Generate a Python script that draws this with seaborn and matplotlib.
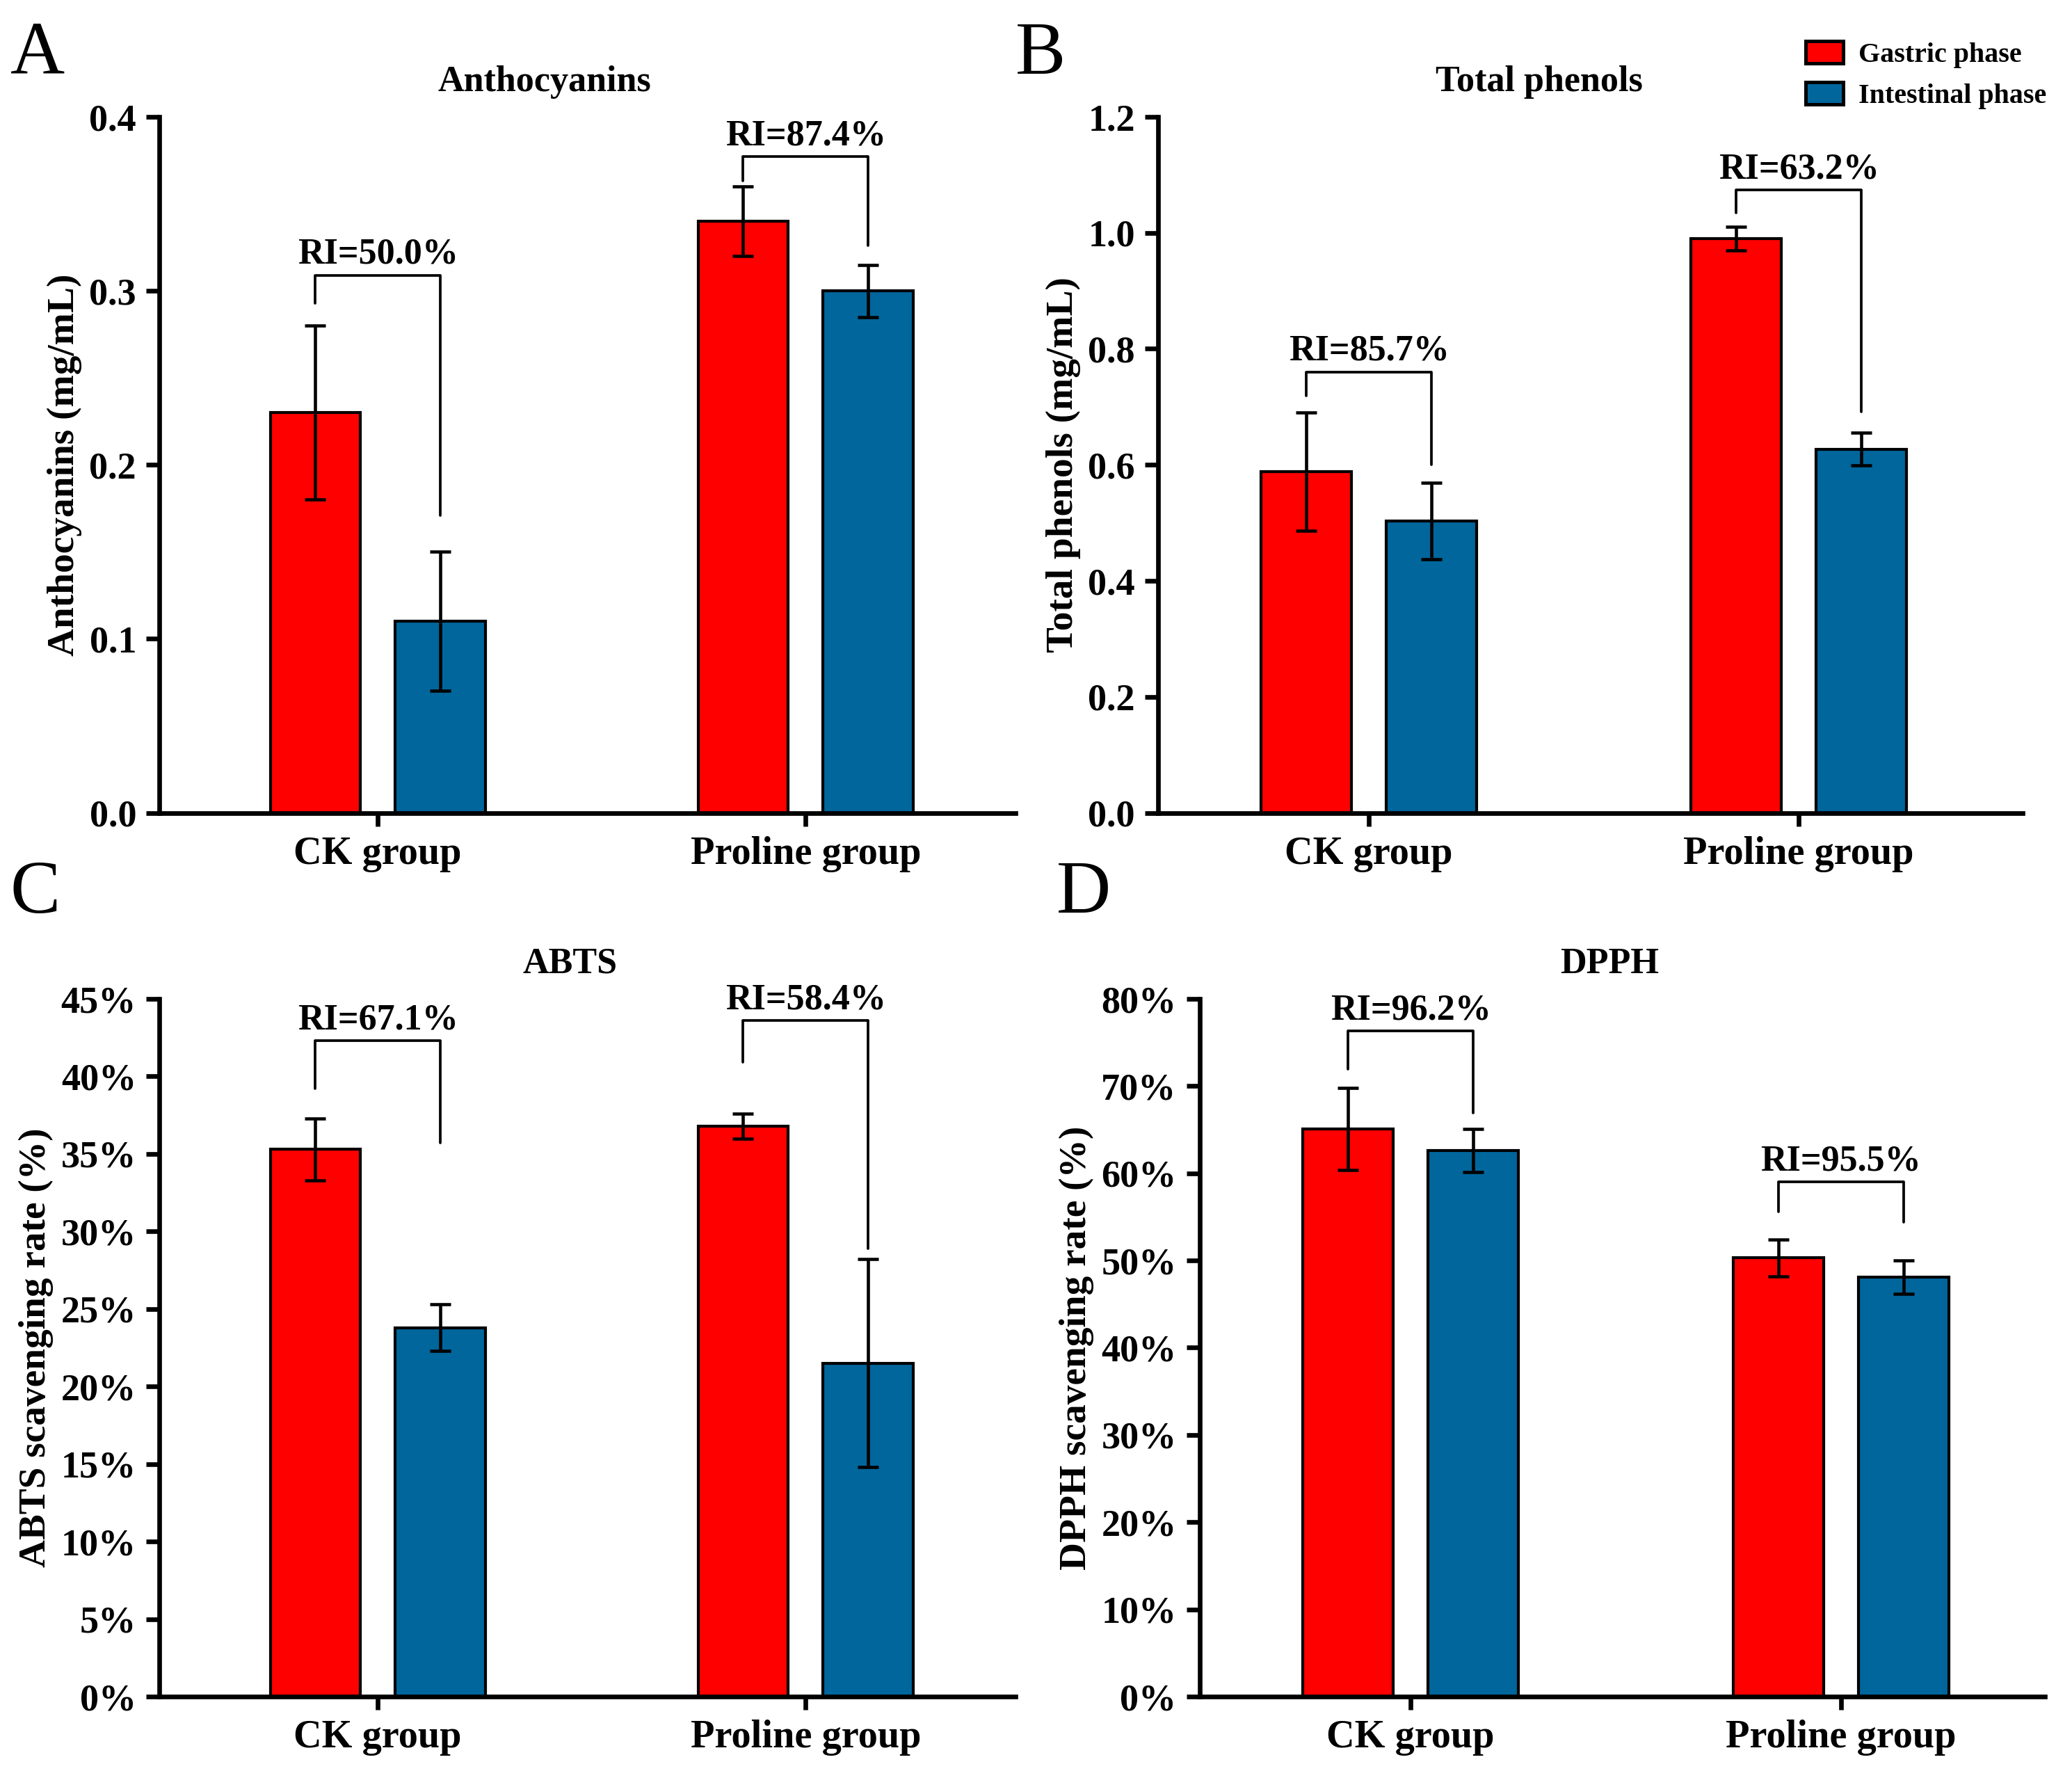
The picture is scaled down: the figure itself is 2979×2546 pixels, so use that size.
import numpy as np
import pandas as pd
import seaborn as sns
import matplotlib.pyplot as plt
from matplotlib.patches import Patch
from matplotlib.container import BarContainer
from matplotlib.ticker import FormatStrFormatter, PercentFormatter

# ---------------------------------------------------------
# data
# ---------------------------------------------------------
groups = ['CK group', 'Proline group']
phases = ['Gastric phase', 'Intestinal phase']
colors = {'Gastric phase': '#FF0000', 'Intestinal phase': '#00669C'}

antho_mean = [[0.23, 0.34], [0.11, 0.30]]
antho_err = [[0.05, 0.02], [0.04, 0.015]]
antho_ri = ['RI=50.0%', 'RI=87.4%']
antho_bracket = [0.309, 0.377]
antho_leg_left = [0.293, 0.363]
antho_leg_right = [0.171, 0.326]

phen_mean = [[0.588, 0.990], [0.503, 0.627]]
phen_err = [[0.102, 0.020], [0.066, 0.028]]
phen_ri = ['RI=85.7%', 'RI=63.2%']
phen_bracket = [0.760, 1.074]
phen_leg_left = [0.719, 1.035]
phen_leg_right = [0.600, 0.692]

abts_mean = [[0.353, 0.368], [0.238, 0.215]]
abts_err = [[0.020, 0.008], [0.015, 0.067]]
abts_ri = ['RI=67.1%', 'RI=58.4%']
abts_bracket = [0.423, 0.436]
abts_leg_left = [0.392, 0.409]
abts_leg_right = [0.357, 0.289]

dpph_mean = [[0.651, 0.503], [0.626, 0.481]]
dpph_err = [[0.047, 0.021], [0.025, 0.019]]
dpph_ri = ['RI=96.2%', 'RI=95.5%']
dpph_bracket = [0.763, 0.590]
dpph_leg_left = [0.719, 0.556]
dpph_leg_right = [0.669, 0.544]

sns.set_style("ticks")
plt.rcParams['font.family'] = ['Liberation Serif', 'DejaVu Serif']
plt.rcParams.update({
    'font.weight': 'bold',
    'axes.labelweight': 'bold',
    'axes.titleweight': 'bold',
    'text.color': 'black',
    'axes.labelcolor': 'black',
    'axes.edgecolor': 'black',
    'xtick.color': 'black',
    'ytick.color': 'black',
})

fig = plt.figure(figsize=(9.93, 8.487), dpi=300)


def make_df(means, errs):
    rows = []
    for i, ph in enumerate(phases):
        for j, g in enumerate(groups):
            rows.append({'group': g, 'phase': ph, 'value': means[i][j], 'err': errs[i][j]})
    return pd.DataFrame(rows)


def panel(rect, means, errs, ri, bracket, leg_l, leg_r, ylim, yticks, fmt, ylabel, title, title_x, xlim):
    ax = fig.add_axes(rect)
    df = make_df(means, errs)
    sns.barplot(data=df, x='group', y='value', hue='phase', order=groups, hue_order=phases,
                palette=colors, saturation=1, width=0.584, gap=0.28, errorbar=None,
                edgecolor='black', linewidth=1.0, legend=False, ax=ax)
    bars = [c for c in ax.containers if isinstance(c, BarContainer)]
    xs = []
    for i, cont in enumerate(bars):
        cx = [b.get_x() + b.get_width() / 2 for b in cont]
        xs.append(cx)
        ax.errorbar(cx, means[i], yerr=errs[i], fmt='none', ecolor='black', elinewidth=1.1,
                    capsize=3.5, capthick=1.1, zorder=5)
    for j in range(len(groups)):
        x0, x1 = xs[0][j], xs[1][j]
        ax.plot([x0, x0, x1, x1], [leg_l[j], bracket[j], bracket[j], leg_r[j]],
                color='black', lw=0.9, zorder=6)
        ax.text((x0 + x1) / 2, bracket[j] + ylim[1] * 0.006, ri[j], ha='center', va='bottom',
                fontsize=12.5, fontweight='bold')
    ax.set_ylim(*ylim)
    ax.set_xlim(*xlim)
    ax.set_yticks(yticks)
    ax.yaxis.set_major_formatter(fmt)
    ax.set_xlabel('')
    ax.set_ylabel(ylabel, fontsize=13.3, fontweight='bold', labelpad=2.5)
    ax.set_title(title, fontsize=12.5, fontweight='bold', x=title_x, pad=9)
    sns.despine(ax=ax)
    for s in ['left', 'bottom']:
        ax.spines[s].set_linewidth(1.6)
    ax.tick_params(axis='both', direction='out', length=4.5, width=1.6, color='black')
    ax.tick_params(axis='y', labelsize=13)
    ax.tick_params(axis='x', labelsize=13.5)
    for lab in ax.get_xticklabels() + ax.get_yticklabels():
        lab.set_fontweight('bold')
    return ax


panel([0.077, 0.541, 0.413, 0.393], antho_mean, antho_err, antho_ri, antho_bracket,
      antho_leg_left, antho_leg_right, (0, 0.4), np.arange(0, 0.41, 0.1),
      FormatStrFormatter('%.1f'), 'Anthocyanins (mg/mL)', 'Anthocyanins', 0.45, (-0.51, 1.49))
panel([0.559, 0.541, 0.417, 0.393], phen_mean, phen_err, phen_ri, phen_bracket,
      phen_leg_left, phen_leg_right, (0, 1.2), np.arange(0, 1.21, 0.2),
      FormatStrFormatter('%.1f'), 'Total phenols (mg/mL)', 'Total phenols', 0.441, (-0.49, 1.52))
panel([0.077, 0.042, 0.413, 0.394], abts_mean, abts_err, abts_ri, abts_bracket,
      abts_leg_left, abts_leg_right, (0, 0.45), np.arange(0, 0.451, 0.05),
      PercentFormatter(1, decimals=0), 'ABTS scavenging rate (%)', 'ABTS', 0.48, (-0.51, 1.49))
panel([0.579, 0.042, 0.408, 0.394], dpph_mean, dpph_err, dpph_ri, dpph_bracket,
      dpph_leg_left, dpph_leg_right, (0, 0.8), np.arange(0, 0.81, 0.1),
      PercentFormatter(1, decimals=0), 'DPPH scavenging rate (%)', 'DPPH', 0.485, (-0.49, 1.474))

# panel letters
for letter, (x, y) in zip('ABCD', [(0.005, 0.988), (0.490, 0.988), (0.005, 0.514), (0.510, 0.514)]):
    fig.text(x, y, letter, fontsize=26, fontweight='normal', ha='left', va='top')

handles = [Patch(facecolor=colors[p], edgecolor='black', linewidth=1.2, label=p) for p in phases]
fig.legend(handles=handles, loc='upper right', bbox_to_anchor=(0.993, 0.983), frameon=False,
           prop={'weight': 'bold', 'size': 9.6}, handlelength=1.35, handleheight=0.85,
           labelspacing=0.5, handletextpad=0.55, borderaxespad=0.0)

fig.savefig('out.png', dpi=300)
